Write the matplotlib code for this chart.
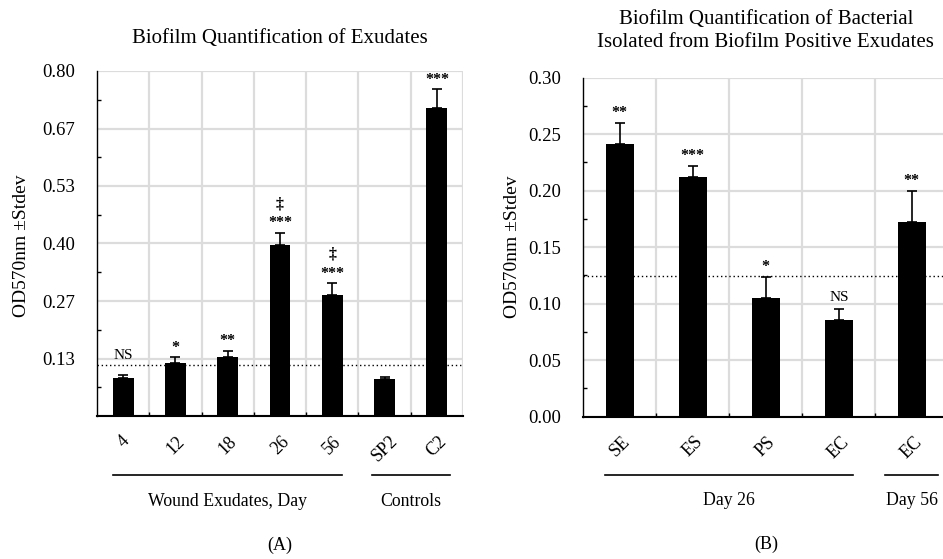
import matplotlib
matplotlib.use('Agg')
import matplotlib.pyplot as plt
import numpy as np
from matplotlib.transforms import blended_transform_factory
from matplotlib.ticker import FixedLocator

plt.rcParams['font.family'] = ['Liberation Serif', 'DejaVu Serif', 'DejaVu Sans']

# ---------------- Data: panel A ----------------
a_title = "Biofilm Quantification of Exudates"
a_categories = ['4', '12', '18', '26', '56', 'SP2', 'C2']
a_values = [0.088, 0.123, 0.137, 0.397, 0.281, 0.085, 0.714]
a_errors = [0.006, 0.013, 0.014, 0.028, 0.027, 0.006, 0.044]
a_annotations = ['NS', '*', '**', '\u2021\n***', '\u2021\n***', '', '***']
a_threshold = 0.118
a_group_names = ['Wound Exudates, Day', 'Controls']
a_group_start = [0, 5]
a_group_end = [4, 6]
a_ytick_values = [0.8 / 6 * k for k in range(1, 7)]
a_ytick_labels = ['0.13', '0.27', '0.40', '0.53', '0.67', '0.80']
a_panel = '(A)'

# ---------------- Data: panel B ----------------
b_title = "Biofilm Quantification of Bacterial\nIsolated from Biofilm Positive Exudates"
b_categories = ['SE', 'ES', 'PS', 'EC', 'EC']
b_values = [0.241, 0.212, 0.105, 0.086, 0.172]
b_errors = [0.019, 0.010, 0.019, 0.009, 0.028]
b_annotations = ['**', '***', '*', 'NS', '**']
b_threshold = 0.1245
b_group_names = ['Day 26', 'Day 56']
b_group_start = [0, 4]
b_group_end = [3, 4]
b_ytick_values = [0.00, 0.05, 0.10, 0.15, 0.20, 0.25, 0.30]
b_ytick_labels = ['0.00', '0.05', '0.10', '0.15', '0.20', '0.25', '0.30']
b_panel = '(B)'

ylabel = 'OD570nm \u00b1Stdev'

fig = plt.figure(figsize=(9.43, 5.59), dpi=100)
fig.patch.set_facecolor('white')

GRID = '#dcdcdc'


def draw_panel(ax, cats, vals, errs, notes, thr, gnames, gstart, gend, gpads,
               yticks, ylabels, ymax, title, panel, bar_w, ylabel_x, ylabel_y,
               title_pad, ns_offset):
    x = np.arange(len(cats))
    ax.set_xlim(-0.5, len(cats) - 0.5)
    ax.set_ylim(0, ymax)
    # grid
    for yt in yticks:
        ax.axhline(yt, color=GRID, lw=1.6, zorder=0)
    for b in np.arange(0.5, len(cats), 1.0):
        ax.axvline(b, color=GRID, lw=1.6, zorder=0)
    ax.bar(x, vals, width=bar_w, color='black', zorder=2)
    ax.errorbar(x, vals, yerr=[np.zeros(len(vals)), errs], fmt='none',
                ecolor='black', elinewidth=1.2, capsize=3.8, capthick=1.2, zorder=3)
    ax.axhline(thr, color='black', lw=1.0, ls=(0, (1, 2)), zorder=4)
    for xi, v, e, t in zip(x, vals, errs, notes):
        if not t:
            continue
        if t == 'NS':
            ax.annotate(t, xy=(xi, v + e), xytext=(0, ns_offset), textcoords='offset points',
                        ha='center', va='baseline', fontsize=11, zorder=5)
        else:
            ax.annotate(t, xy=(xi, v + e), xytext=(0, 4), textcoords='offset points',
                        ha='center', va='baseline', fontsize=11.5, fontweight='bold',
                        linespacing=1.25, zorder=5)
    # spines
    for s in ['top', 'right']:
        ax.spines[s].set_visible(False)
    ax.spines['left'].set_linewidth(1.0)
    ax.spines['bottom'].set_linewidth(1.5)
    ax.spines['left'].set_zorder(6)
    ax.spines['bottom'].set_zorder(6)
    # ticks
    ax.set_yticks(yticks)
    ax.set_yticklabels(ylabels, fontsize=13.5)
    ax.yaxis.set_minor_locator(FixedLocator([t - (yticks[1] - yticks[0]) / 2 for t in yticks if t > 0]))
    ax.tick_params(axis='y', which='major', length=0, pad=16)
    ax.tick_params(axis='y', which='minor', direction='in', length=3, width=1)
    ax.set_xticks(x)
    ax.set_xticklabels(cats, rotation=45, fontsize=13, ha='center')
    ax.tick_params(axis='x', which='major', length=0, pad=12)
    ax.xaxis.set_minor_locator(FixedLocator(np.arange(0.5, len(cats) - 0.5, 1.0)))
    ax.tick_params(axis='x', which='minor', direction='in', length=3, width=1)
    ax.set_ylabel(ylabel, fontsize=14)
    ax.yaxis.set_label_coords(ylabel_x, ylabel_y)
    ax.set_title(title, fontsize=15, pad=title_pad, linespacing=1.3)
    # group lines and labels
    tr = blended_transform_factory(ax.transData, ax.transAxes)
    for name, s, e, p in zip(gnames, gstart, gend, gpads):
        ax.plot([s - p, e + p], [-0.172, -0.172], color='black', lw=1.2,
                transform=tr, clip_on=False)
        ax.text((s + e) / 2, -0.248, name, transform=tr, ha='center', va='center', fontsize=12.8)
    ax.text(0.5, -0.376, panel, transform=ax.transAxes, ha='center', va='center', fontsize=13)


axA = fig.add_axes([97 / 943, 143 / 559, 366 / 943, 345 / 559])
draw_panel(axA, a_categories, a_values, a_errors, a_annotations, a_threshold,
           a_group_names, a_group_start, a_group_end, [0.19, 0.25],
           [0.0] + a_ytick_values, [''] + a_ytick_labels, 0.8, a_title, a_panel,
           0.40, -0.183, 0.493, 20, 12)

axB = fig.add_axes([583.3 / 943, 142.3 / 559, 365 / 943, 339 / 559])
draw_panel(axB, b_categories, b_values, b_errors, b_annotations, b_threshold,
           b_group_names, b_group_start, b_group_end, [0.2, 0.363],
           b_ytick_values, b_ytick_labels, 0.30, b_title, b_panel,
           0.38, -0.172, 0.5, 22, 6)

fig.savefig('out.png', dpi=100, facecolor='white')
